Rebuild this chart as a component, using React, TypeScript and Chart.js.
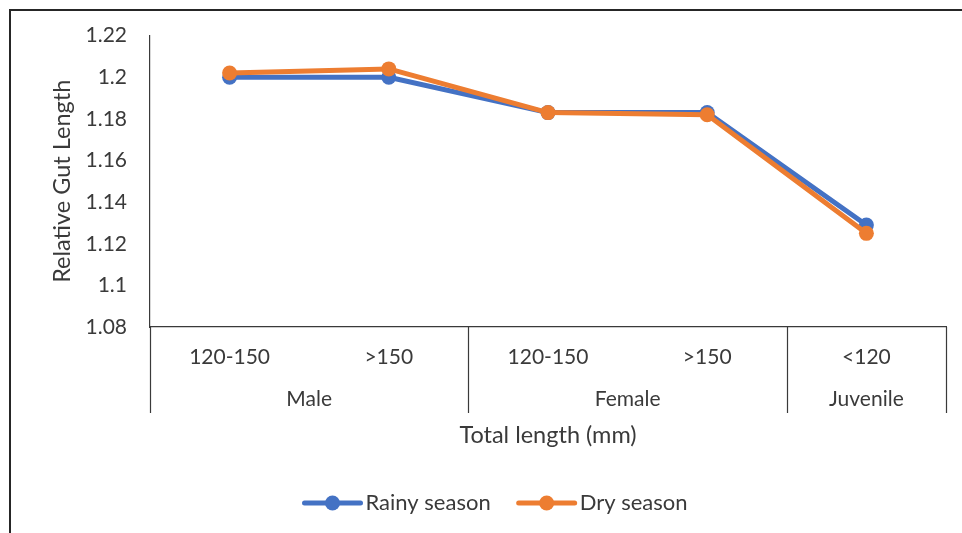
import React, { useEffect, useRef } from 'react';
import { Chart, registerables } from 'chart.js';

Chart.register(...registerables);

// ---- data ----
const categories = ['120-150', '>150', '120-150', '>150', '<120'];
const groupNames = ['Male', 'Female', 'Juvenile'];
const groupSpans = [2, 2, 1];
const seriesNames = ['Rainy season', 'Dry season'];
const rainySeason = [1.2, 1.2, 1.183, 1.183, 1.129];
const drySeason = [1.202, 1.204, 1.183, 1.182, 1.125];
const yTicks = [1.08, 1.1, 1.12, 1.14, 1.16, 1.18, 1.2, 1.22];
const xTitle = 'Total length (mm)';
const yTitle = 'Relative Gut Length';

// ---- styles ----
const seriesColors = ['#4472C4', '#ED7D31'];
const FONT = 'Lato, "Open Sans", sans-serif';
const TEXT = '#3a3a3a';
const AXIS = '#3a3a3a';
const FS = 21;
const FS_TITLE = 23.5;
const FS_LEGEND = 22;

const decorPlugin = {
  id: 'decor',
  afterDraw(chart: any) {
    const ctx = chart.ctx as CanvasRenderingContext2D;
    const xs = chart.scales.x;
    const area = chart.chartArea;
    ctx.save();

    // outer frame
    ctx.strokeStyle = '#262626';
    ctx.lineWidth = 2;
    ctx.strokeRect(10, 10, chart.width + 40, chart.height + 40);

    // category labels (level 1)
    ctx.fillStyle = TEXT;
    ctx.font = `${FS}px ${FONT}`;
    ctx.textAlign = 'center';
    ctx.textBaseline = 'middle';
    categories.forEach((c, i) => {
      ctx.fillText(c, xs.getPixelForValue(i), area.bottom + 30);
    });

    // group labels (level 2) and separators
    ctx.strokeStyle = AXIS;
    ctx.lineWidth = 1.2;
    const sepBottom = area.bottom + 86;
    const drawSep = (px: number) => {
      const p = Math.round(px) + 0.5;
      ctx.beginPath();
      ctx.moveTo(p, area.bottom);
      ctx.lineTo(p, sepBottom);
      ctx.stroke();
    };
    drawSep(xs.getPixelForValue(-0.5));
    let start = 0;
    groupNames.forEach((g, gi) => {
      const end = start + groupSpans[gi];
      const l = xs.getPixelForValue(start - 0.5);
      const r = xs.getPixelForValue(end - 0.5);
      ctx.fillText(g, (l + r) / 2, area.bottom + 72);
      drawSep(r);
      start = end;
    });

    // legend
    ctx.font = `${FS_LEGEND}px ${FONT}`;
    const lineLen = 56;
    const textGap = 5;
    const itemGap = 28;
    const ly = 503;
    const widths = chart.data.datasets.map((d: any) => lineLen + textGap + ctx.measureText(d.label).width);
    const total = widths.reduce((a: number, b: number) => a + b, 0) + itemGap * (widths.length - 1);
    let lx = 496 - total / 2;
    ctx.textAlign = 'left';
    chart.data.datasets.forEach((d: any, i: number) => {
      ctx.strokeStyle = d.borderColor;
      ctx.lineWidth = 5;
      ctx.lineCap = 'round';
      ctx.beginPath();
      ctx.moveTo(lx, ly);
      ctx.lineTo(lx + lineLen, ly);
      ctx.stroke();
      ctx.fillStyle = d.borderColor;
      ctx.beginPath();
      ctx.arc(lx + lineLen / 2, ly, 7.5, 0, Math.PI * 2);
      ctx.fill();
      ctx.fillStyle = TEXT;
      ctx.fillText(d.label, lx + lineLen + textGap, ly);
      lx += widths[i] + itemGap;
    });

    ctx.restore();
  },
};

export default function App() {
  const ref = useRef<HTMLCanvasElement>(null);

  useEffect(() => {
    if (!ref.current) return;
    const mk = (i: number, data: number[], order: number) => ({
      label: seriesNames[i],
      data,
      borderColor: seriesColors[i],
      backgroundColor: seriesColors[i],
      borderWidth: 5,
      borderJoinStyle: 'round' as const,
      borderCapStyle: 'round' as const,
      pointRadius: 7.5,
      pointBorderWidth: 0,
      pointBackgroundColor: seriesColors[i],
      pointHoverRadius: 7.5,
      tension: 0,
      order,
    });
    const chart = new Chart(ref.current, {
      type: 'line',
      data: {
        labels: categories,
        datasets: [mk(0, rainySeason, 1), mk(1, drySeason, 0)],
      },
      plugins: [decorPlugin],
      options: {
        responsive: false,
        animation: false,
        devicePixelRatio: 1,
        layout: { padding: { left: 0, right: 16, top: 31, bottom: 0 } },
        plugins: { legend: { display: false }, tooltip: { enabled: false } },
        scales: {
          x: {
            type: 'category',
            offset: true,
            grid: { display: false, drawTicks: false },
            border: { display: true, color: AXIS, width: 1.2 },
            ticks: { display: false },
            title: {
              display: true,
              text: xTitle,
              color: TEXT,
              font: { family: FONT, size: FS_TITLE },
              padding: { top: 0, bottom: 83 },
            },
            afterFit: (s: any) => {
              s.height = 206;
            },
          },
          y: {
            min: 1.08,
            max: 1.22,
            afterBuildTicks: (s: any) => {
              s.ticks = yTicks.map((v) => ({ value: v }));
            },
            grid: { display: false, drawTicks: false },
            border: { display: true, color: AXIS, width: 1.2 },
            ticks: {
              padding: 23,
              color: TEXT,
              font: { family: FONT, size: FS },
              callback: (v: any) => String(Number(Number(v).toFixed(2))),
            },
            title: {
              display: true,
              text: yTitle,
              color: TEXT,
              font: { family: FONT, size: FS_TITLE },
              padding: { top: 48, bottom: 0 },
            },
            afterFit: (s: any) => {
              s.width = 150;
            },
          },
        },
      },
    });
    return () => chart.destroy();
  }, []);

  return (
    <div style={{ position: 'fixed', left: 0, top: 0, width: 962, height: 533, background: '#fff' }}>
      <canvas ref={ref} width={962} height={533} style={{ display: 'block' }} />
    </div>
  );
}
